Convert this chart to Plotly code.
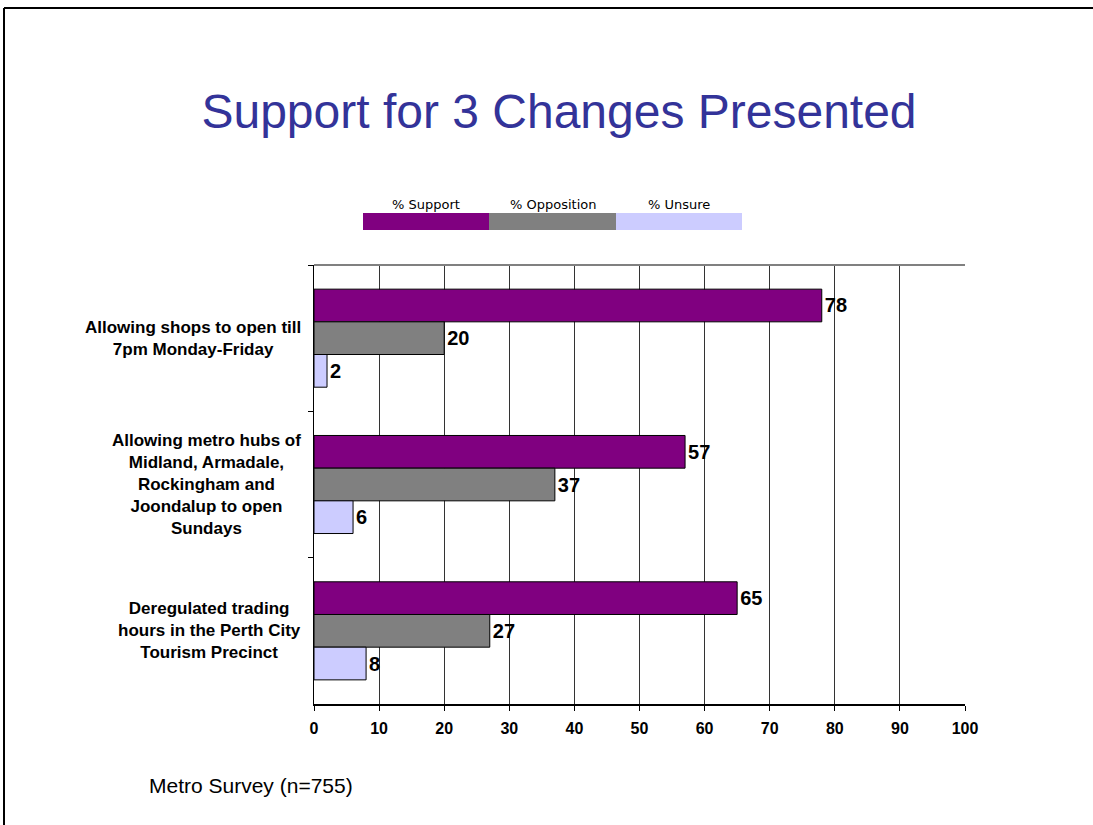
import plotly.graph_objects as go

categories = [
    "Allowing shops to open till<br>7pm Monday-Friday",
    "Allowing metro hubs of<br>Midland, Armadale,<br>Rockingham and<br>Joondalup to open<br>Sundays",
    "Deregulated trading<br>hours in the Perth City<br>Tourism Precinct",
]
series_names = ["% Support", "% Opposition", "% Unsure"]
support = [78, 57, 65]
opposition = [20, 37, 27]
unsure = [2, 6, 8]
series_values = [support, opposition, unsure]
colors = ["#800080", "#808080", "#CCCCFF"]
x_ticks = [0, 10, 20, 30, 40, 50, 60, 70, 80, 90, 100]

W, H = 1093, 825
L, R, T, B = 314, 965, 265, 704  # plot area in pixels


def px(x):
    return (x - L) / (R - L)


def py(y):
    return (B - y) / (B - T)


fig = go.Figure()
for name, vals, col in zip(series_names, series_values, colors):
    fig.add_trace(go.Bar(
        y=categories, x=vals, name=name, orientation="h",
        marker=dict(color=col, line=dict(color="#000000", width=1)),
        text=vals, texttemplate="<b>%{x}</b>", textposition="outside",
        textfont=dict(family="Liberation Sans, Arial", size=20, color="#000000"),
        cliponaxis=False, showlegend=False,
    ))

fig.update_layout(
    width=W, height=H,
    margin=dict(l=L, r=W - R, t=T, b=H - B, pad=0),
    paper_bgcolor="white", plot_bgcolor="white",
    barmode="group", bargap=0.33, bargroupgap=0,
    font=dict(family="Liberation Sans, Arial", color="#000000"),
    title=dict(text="Support for 3 Changes Presented", x=559 / W, xref="container",
               y=1 - 111 / H, yref="container", xanchor="center", yanchor="middle",
               font=dict(family="Liberation Sans, Arial", size=48, color="#333399")),
    xaxis=dict(range=[0, 100], tickvals=x_ticks, showgrid=True, gridcolor="#333333",
               gridwidth=1, showline=True, linecolor="#000000", linewidth=2,
               ticks="outside", ticklen=5, tickcolor="#000000", ticklabelstandoff=4,
               tickfont=dict(family="Liberation Sans, Arial", size=16, weight="bold"),
               zeroline=False, fixedrange=True),
    yaxis=dict(autorange="reversed", showticklabels=False, showline=True,
               linecolor="#000000", linewidth=1, ticks="outside", ticklen=5,
               tickson="boundaries", tickcolor="#000000", showgrid=False,
               fixedrange=True),
)

# category labels (centered multi-line, right-anchored near the axis)
for c in categories:
    fig.add_annotation(text="<b>" + c + "</b>", x=px(303), xref="paper", y=c, yref="y",
                       xanchor="right", yanchor="middle", align="center", showarrow=False,
                       font=dict(family="Liberation Sans, Arial", size=17, color="#000000"))

# top border of the plot area
fig.add_shape(type="line", xref="paper", yref="paper", x0=0, x1=1, y0=1, y1=1,
              line=dict(color="#808080", width=2))

# legend drawn as colored strips with labels above
leg_edges = [363, 489, 616, 742]
for i, (name, col) in enumerate(zip(series_names, colors)):
    x0, x1 = leg_edges[i], leg_edges[i + 1]
    fig.add_shape(type="rect", xref="paper", yref="paper", x0=px(x0), x1=px(x1),
                  y0=py(230), y1=py(213), fillcolor=col, line=dict(width=0))
    fig.add_annotation(text=name, xref="paper", yref="paper", x=px((x0 + x1) / 2),
                       y=py(204), xanchor="center", yanchor="middle", showarrow=False,
                       font=dict(family="DejaVu Sans", size=13, color="#000000"))

# footnote
fig.add_annotation(text="Metro Survey (n=755)", xref="paper", yref="paper", x=px(147),
                   y=py(785), xanchor="left", yanchor="middle", showarrow=False,
                   font=dict(family="Liberation Sans, Arial", size=21, color="#000000"))

# slide frame (top and left edges)
fig.add_shape(type="line", xref="paper", yref="paper", x0=px(4), x1=px(1110),
              y0=py(8), y1=py(8), line=dict(color="#000000", width=2))
fig.add_shape(type="line", xref="paper", yref="paper", x0=px(4), x1=px(4),
              y0=py(8), y1=py(840), line=dict(color="#000000", width=2))

fig.write_html("out.html", config={"displayModeBar": False},
               post_script="document.body.style.margin='0';document.body.style.padding='0';")
